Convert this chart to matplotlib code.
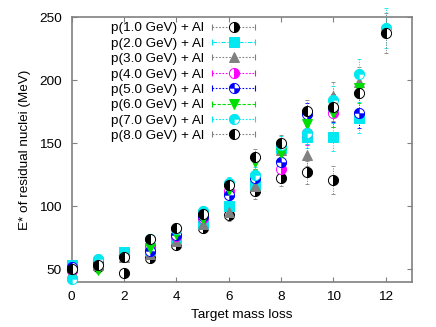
import numpy as np
import matplotlib
matplotlib.use("Agg")
import matplotlib.pyplot as plt
from matplotlib.lines import Line2D
from matplotlib.path import Path
from matplotlib.legend_handler import HandlerLine2D, HandlerTuple

plt.rcParams['font.family'] = ['Liberation Sans', 'DejaVu Sans']
plt.rcParams['font.size'] = 9.7

# ---------------- data ----------------
mass_loss = [0, 1, 2, 3, 4, 5, 6, 7, 8, 9, 10, 11, 12]
labels = ["p(1.0 GeV) + Al", "p(2.0 GeV) + Al", "p(3.0 GeV) + Al", "p(4.0 GeV) + Al",
          "p(5.0 GeV) + Al", "p(6.0 GeV) + Al", "p(7.0 GeV) + Al", "p(8.0 GeV) + Al"]
nan = np.nan
e_p10 = [49, 52, 46.8, 59.2, 69.5, 83, 93.4, 111.8, 122.4, 127, 121, nan, nan]
e_p20 = [53, 55, 64, 65, 73.7, 85.5, 100.5, 117, 146, 155.2, 155.2, 170.5, nan]
e_p30 = [48, 53, 60, 62, 72, 86, 95.2, 116, 145, 140.8, 188, 198.6, nan]
e_p40 = [49, 55, 61, 68.4, 76, 91, 111.8, 123.6, 129.5, 158, 173.7, nan, nan]
e_p50 = [52, 57, 61, 64.5, 77, 92, 109.2, 122.4, 135.5, 172.9, 178, 174.2, nan]
e_p60 = [47, 49, 60, 67, 78, 89.5, 113, 135.5, 142, 165.5, 174, 194.2, nan]
e_p70 = [42, 58, 62, 74, 82, 96, 118.4, 125, 149, 158.4, 184.2, 204.7, 241.5]
e_p80 = [50, 53, 60, 73.7, 83, 93.5, 117, 139.5, 150, 175.5, 178.5, 190.3, 237.5]
e_err = [2, 2, 2.5, 3, 3.5, 4, 5, 6, 6.5, 9, 11, 12, 16]
series = [e_p10, e_p20, e_p30, e_p40, e_p50, e_p60, e_p70, e_p80]

# ---------------- styles ----------------
CY = '#00e8f0'
MG = '#ff00ff'
BL = '#0000ff'
GR = '#00e000'
GY = '#808080'
quarters = Path.make_compound_path(Path.wedge(90, 180), Path.wedge(270, 360))
three_q = Path.wedge(0, 270)
ms = 7.3
# each style: errorbar color, list of marker layers
styles = [
    (GY, [dict(marker='o', ms=ms, fillstyle='left', mfc='white', mfcalt='black', mec='black', mew=0.7)]),
    (CY, [dict(marker='s', ms=ms*0.95, mfc=CY, mec=CY, mew=0.7)]),
    (GY, [dict(marker='^', ms=ms*0.9, mfc=GY, mec=GY, mew=0.7)]),
    (MG, [dict(marker='o', ms=ms, fillstyle='right', mfc=MG, mfcalt='white', mec=MG, mew=0.7)]),
    (BL, [dict(marker='o', ms=ms, mfc='white', mec=BL, mew=0.7),
          dict(marker=quarters, ms=ms, mfc=BL, mec=BL, mew=0.3)]),
    (GR, [dict(marker='v', ms=ms*0.9, mfc=GR, mec=GR, mew=0.7)]),
    (CY, [dict(marker='o', ms=ms, mfc='white', mec=CY, mew=0.7),
          dict(marker=three_q, ms=ms, mfc=CY, mec=CY, mew=0.3)]),
    (GY, [dict(marker='o', ms=ms, fillstyle='left', mfc='black', mfcalt='white', mec='black', mew=0.7)]),
]
line_styles = [(0, (1.5, 1.5)), (0, (4, 1.5, 1, 1.5)), (0, (1.5, 1.5)), (0, (1.5, 1.5)),
               (0, (1.5, 1.5)), (0, (3, 1.5)), (0, (1.5, 1.5)), (0, (1.5, 1.5))]

fig = plt.figure(figsize=(4.36, 3.27), dpi=100)
ax = fig.add_axes([0.1645, 0.1385, 0.78, 0.808])

handles = []
handler_map = {}
for i, (ys, (ec, layers)) in enumerate(zip(series, styles)):
    x = np.array(mass_loss, dtype=float)
    y = np.array(ys, dtype=float)
    ok = ~np.isnan(y)
    eb = ax.errorbar(x[ok], y[ok], yerr=np.array(e_err)[ok], fmt='none', ecolor=ec,
                     elinewidth=0.6, capsize=1.5, capthick=0.6, zorder=2 + i * 0.1)
    for c in eb.lines[2]:
        c.set_linestyle((0, (1.5, 1.5)))
        c.set_clip_on(False)
    for c in eb.lines[1]:
        c.set_clip_on(False)
    for L in layers:
        ax.plot(x[ok], y[ok], ls='none', clip_on=False, zorder=3 + i * 0.1, **L)
    caps = Line2D([], [], color=ec, lw=0.8, ls=line_styles[i], marker='|', ms=4, mew=0.8)
    handler_map[caps] = HandlerLine2D(numpoints=2, marker_pad=0)
    mk = [Line2D([], [], ls='none', **L) for L in layers]
    handles.append(tuple([caps] + mk))

ax.set_xlim(0, 13)
ax.set_ylim(40, 250)
ax.set_xticks([0, 2, 4, 6, 8, 10, 12])
ax.set_yticks([50, 100, 150, 200, 250])
ax.tick_params(direction='in', length=3.5, width=0.8, color=GY, pad=7,
               top=True, right=True, labelsize=9.7)
for sp in ax.spines.values():
    sp.set_color(GY)
    sp.set_linewidth(1.2)
ax.set_xlabel("Target mass loss", fontsize=9.7, labelpad=4)
ax.set_ylabel("E* of residual nuclei (MeV)", fontsize=9.7, labelpad=6)

leg = ax.legend(handles, labels, handler_map=handler_map, markerfirst=False,
                loc='upper right', bbox_to_anchor=(0.586, 0.933),
                bbox_transform=fig.transFigure, frameon=False, borderpad=0,
                borderaxespad=0, handlelength=3.2, handletextpad=0.62,
                labelspacing=0.22, fontsize=9.7)

fig.savefig("out.png", dpi=100)
